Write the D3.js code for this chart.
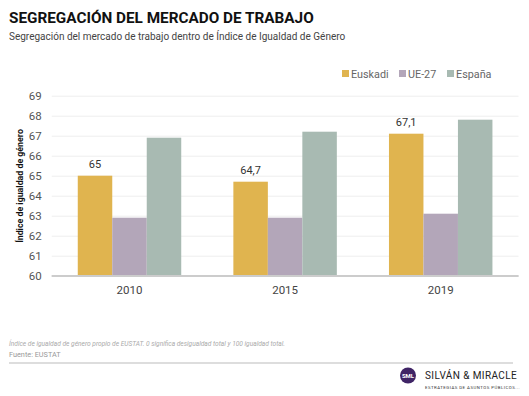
<!DOCTYPE html>
<html><head><meta charset="utf-8">
<script src="https://cdn.jsdelivr.net/npm/d3@7"></script>
<style>body{margin:0;background:#fff}svg{display:block;font-family:Roboto,"Noto Sans",sans-serif}</style>
</head><body><svg id="c" width="529" height="396"></svg>
<script>
const years = ["2010","2015","2019"];
const seriesNames = ["Euskadi","UE-27","España"];
const euskadi = [65, 64.7, 67.1];
const ue27 = [62.9, 62.9, 63.1];
const espana = [66.9, 67.2, 67.8];
const valueLabels = ["65","64,7","67,1"];
const yTicks = [60,61,62,63,64,65,66,67,68,69];
const colors = ["#e0b44f","#b3a6b9","#a8bab2"];

const svg = d3.select("#c");
const values = [euskadi, ue27, espana];
const x0 = d3.scaleBand().domain(years).range([51.7, 518.5]).paddingInner(0.335).paddingOuter(0.1675);
const x1 = d3.scaleBand().domain(seriesNames).range([0, x0.bandwidth()]);
const y = d3.scaleLinear().domain([60,69]).range([275.7, 95.7]);

// title
svg.append("text").attr("x",9).attr("y",22.5).attr("font-size",15.3).attr("font-weight","bold").attr("fill","#111").text("SEGREGACIÓN DEL MERCADO DE TRABAJO");
svg.append("text").attr("x",9).attr("y",40).attr("font-size",10).attr("fill","#444").text("Segregación del mercado de trabajo dentro de Índice de Igualdad de Género");

// gridlines
const yAxis = d3.axisLeft(y).tickValues(yTicks).tickSize(-(518.5-51.7)).tickPadding(10).tickFormat(d3.format("d"));
const ga = svg.append("g").attr("transform","translate(51.7,0)").call(yAxis);
ga.select(".domain").remove();
ga.selectAll(".tick line").attr("stroke", d => d===60 ? "#cccccc" : "#eeeeee").attr("stroke-width", d => d===60?1.5:1);
ga.selectAll(".tick text").attr("fill","#555").attr("font-size",11.5).attr("font-family","Roboto,sans-serif");

// bars
years.forEach((yr,i) => {
  const g = svg.append("g").attr("transform",`translate(${x0(yr)},0)`);
  g.selectAll("rect").data(seriesNames).join("rect")
    .attr("x", s => x1(s)).attr("width", x1.bandwidth())
    .attr("y", (s,j) => y(values[j][i])).attr("height", (s,j) => y(60)-y(values[j][i]))
    .attr("fill", (s,j) => colors[j]);
  g.append("text").attr("x", x1("Euskadi")+x1.bandwidth()/2).attr("y", y(euskadi[i])-8)
    .attr("text-anchor","middle").attr("font-size",11).attr("fill","#333").text(valueLabels[i]);
});
// redraw baseline on top
svg.append("line").attr("x1",51.7).attr("x2",518.5).attr("y1",y(60)).attr("y2",y(60)).attr("stroke","#cccccc").attr("stroke-width",1.5);

// x axis labels
const xa = svg.append("g").attr("transform",`translate(0,${y(60)})`).call(d3.axisBottom(x0).tickSize(0).tickPadding(10));
xa.select(".domain").remove();
xa.selectAll("text").attr("fill","#444").attr("font-size",11.5).attr("font-family","Roboto,sans-serif");

// y title
svg.append("text").attr("transform","translate(23,186) rotate(-90)").attr("text-anchor","middle")
  .attr("font-size",8.8).attr("font-weight","bold").attr("fill","#111").text("Índice de igualdad de género");

// legend
const legX = [342, 399, 447];
seriesNames.forEach((s,i) => {
  svg.append("rect").attr("x",legX[i]).attr("y",70).attr("width",7).attr("height",7).attr("fill",colors[i]);
  svg.append("text").attr("x",legX[i]+9).attr("y",78).attr("font-size",10.8).attr("fill","#666").text(s);
});

// footer
svg.append("text").attr("x",9).attr("y",346).attr("font-size",6.6).attr("font-style","italic").attr("fill","#aaa")
  .text("Índice de igualdad de género propio de EUSTAT. 0 significa desigualdad total y 100 igualdad total.");
svg.append("text").attr("x",9).attr("y",357).attr("font-size",7.3).attr("fill","#999").text("Fuente: EUSTAT");
svg.append("line").attr("x1",9).attr("x2",513).attr("y1",363).attr("y2",363).attr("stroke","#dddddd").attr("stroke-width",2);

// logo
svg.append("circle").attr("cx",408).attr("cy",375.5).attr("r",8).attr("fill","#3f2466");
svg.append("text").attr("x",408).attr("y",377.5).attr("text-anchor","middle").attr("font-size",6).attr("font-weight","bold").attr("fill","#fff").text("SML");
svg.append("text").attr("x",425).attr("y",379).attr("font-size",10).attr("letter-spacing",0.4).attr("fill","#222").text("SILVÁN & MIRACLE");
svg.append("text").attr("x",425).attr("y",388.5).attr("font-size",4.3).attr("letter-spacing",0.5).attr("fill","#333").text("ESTRATEGIAS DE ASUNTOS PÚBLICOS...");
</script></body></html>
